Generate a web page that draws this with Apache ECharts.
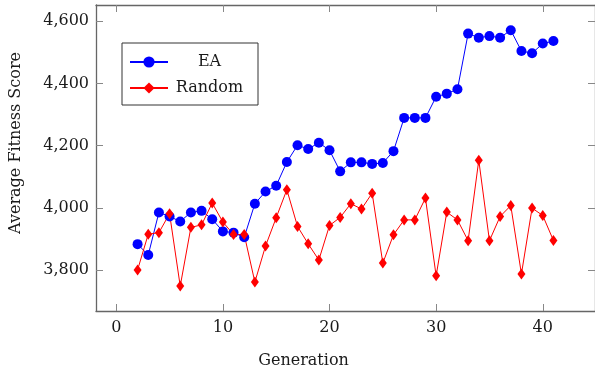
<!DOCTYPE html>
<html>
<head>
<meta charset="utf-8">
<script src="https://cdn.jsdelivr.net/npm/echarts@6/dist/echarts.min.js"></script>
<style>
  html, body { margin: 0; padding: 0; background: #fff; }
  #chart { width: 595px; height: 376px; }
</style>
</head>
<body>
<div id="chart"></div>
<script>
const generations = [2, 3, 4, 5, 6, 7, 8, 9, 10, 11, 12, 13, 14, 15, 16, 17, 18, 19, 20, 21,
  22, 23, 24, 25, 26, 27, 28, 29, 30, 31, 32, 33, 34, 35, 36, 37, 38, 39, 40, 41]

const eaScores = [3883, 3848, 3985, 3972, 3956, 3985, 3990, 3963, 3924, 3920,
  3905, 4013, 4052, 4071, 4147, 4201, 4189, 4209, 4185, 4117,
  4146, 4146, 4141, 4144, 4182, 4289, 4289, 4289, 4357, 4367,
  4381, 4560, 4547, 4552, 4547, 4571, 4504, 4497, 4528, 4536]

const randomScores = [3800, 3915, 3920, 3981, 3748, 3937, 3945, 4015, 3954, 3914,
  3914, 3761, 3877, 3968, 4058, 3940, 3884, 3832, 3943, 3969,
  4013, 3996, 4047, 3822, 3913, 3961, 3961, 4031, 3781, 3986,
  3961, 3894, 4153, 3894, 3972, 4007, 3787, 3999, 3975, 3895]

const xTicks = [0, 10, 20, 30, 40]
const yTicks = [3800, 4000, 4200, 4400, 4600]

const font = '"DejaVu Serif", serif'
const frameColor = '#666'

function pairs(values) {
  return generations.map((g, i) => [g, values[i]])
}

function formatScore(value) {
  return Math.round(value).toString().replace(/\B(?=(\d{3})+(?!\d))/g, ',')
}

const xRange = { min: -1.9, max: 44.9 }
const yRange = { min: 3668, max: 4652 }

function frameAxis(position, range, ticks, showLabels, extra) {
  return Object.assign({
    type: 'value',
    position: position,
    min: range.min,
    max: range.max,
    splitLine: { show: false },
    axisLine: { show: true, onZero: false, lineStyle: { color: frameColor, width: 1.3 } },
    axisTick: {
      show: true,
      inside: true,
      length: 7,
      customValues: ticks,
      lineStyle: { color: '#888', width: 1 },
    },
    axisLabel: {
      show: showLabels,
      customValues: ticks,
      color: '#1a1a1a',
      fontFamily: font,
      fontSize: 16,
    },
  }, extra || {})
}

const chart = echarts.init(document.getElementById('chart'), null, { renderer: 'canvas' })

chart.setOption({
  animation: false,
  backgroundColor: '#fff',
  grid: {
    left: 96,
    top: 5,
    width: 501,
    bottom: 65,
    show: false,
  },
  legend: {
    orient: 'vertical',
    left: 122,
    top: 43,
    padding: [11, 12, 9, 7],
    itemGap: 10,
    itemWidth: 38,
    itemHeight: 14,
    borderColor: '#333',
    borderWidth: 1,
    data: ['EA', 'Random'],
    formatter: (name) => '{t|' + name + '}',
    textStyle: {
      fontFamily: font,
      fontSize: 16,
      color: '#1a1a1a',
      rich: {
        t: { width: 73, align: 'center', fontFamily: font, fontSize: 16, lineHeight: 16 },
      },
    },
  },
  xAxis: [
    frameAxis('bottom', xRange, xTicks, true, {
      name: 'Generation',
      nameLocation: 'middle',
      nameGap: 42,
      nameTextStyle: { fontFamily: font, fontSize: 16, color: '#1a1a1a', padding: [0, 84, 0, 0] },
      axisLabel: { show: true, customValues: xTicks, color: '#1a1a1a', fontFamily: font, fontSize: 16, margin: 9 },
    }),
    frameAxis('top', xRange, xTicks, false),
  ],
  yAxis: [
    frameAxis('left', yRange, yTicks, true, {
      name: 'Average Fitness Score',
      nameLocation: 'middle',
      nameGap: 72,
      nameTextStyle: { fontFamily: font, fontSize: 16, color: '#1a1a1a', padding: [0, 0, 0, 30] },
      axisLabel: {
        show: true,
        customValues: yTicks,
        color: '#1a1a1a',
        fontFamily: font,
        fontSize: 16,
        margin: 7,
        formatter: formatScore,
      },
    }),
    frameAxis('right', yRange, yTicks, false),
  ],
  series: [
    {
      name: 'EA',
      type: 'line',
      data: pairs(eaScores),
      symbol: 'circle',
      symbolSize: 10,
      itemStyle: { color: '#0000ff' },
      lineStyle: { color: '#0000ff', width: 1 },
    },
    {
      name: 'Random',
      type: 'line',
      data: pairs(randomScores),
      symbol: 'diamond',
      symbolSize: [8, 11],
      itemStyle: { color: '#ff0000' },
      lineStyle: { color: '#ff0000', width: 1 },
    },
  ],
})
</script>
</body>
</html>
